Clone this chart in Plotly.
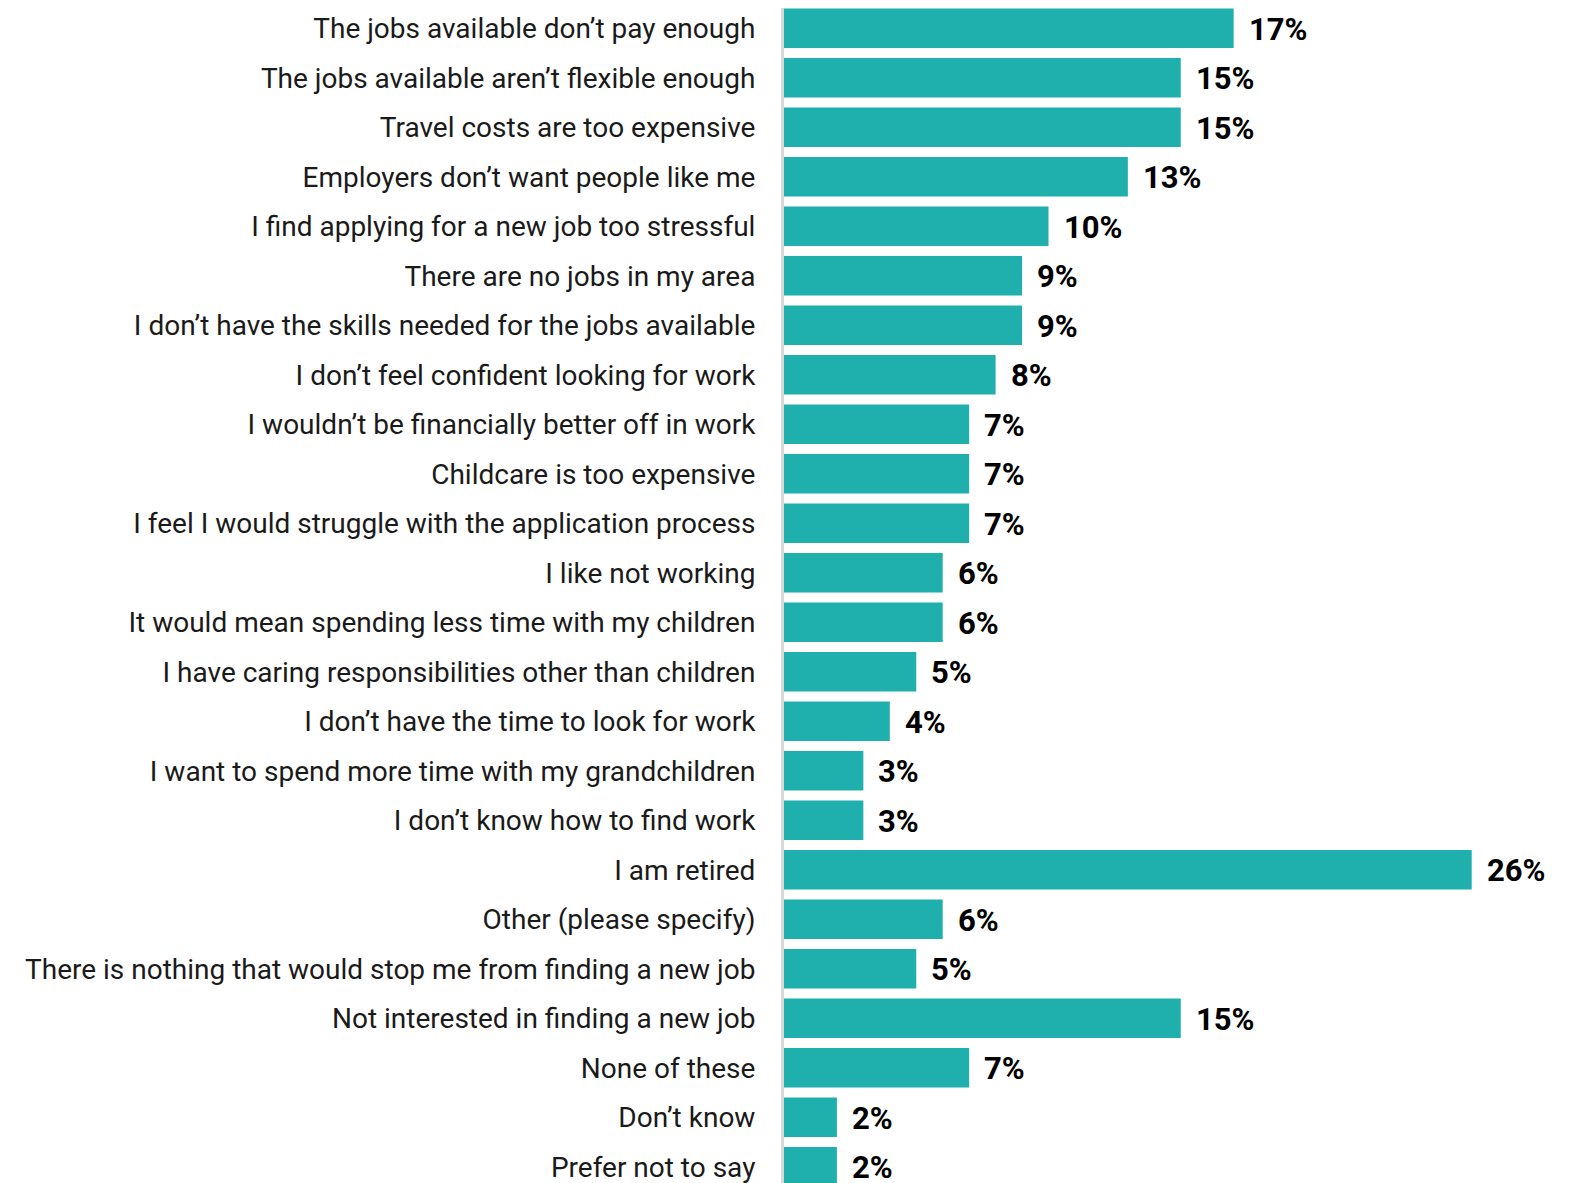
import plotly.graph_objects as go

categories = [
    "The jobs available don’t pay enough",
    "The jobs available aren’t flexible enough",
    "Travel costs are too expensive",
    "Employers don’t want people like me",
    "I find applying for a new job too stressful",
    "There are no jobs in my area",
    "I don’t have the skills needed for the jobs available",
    "I don’t feel confident looking for work",
    "I wouldn’t be financially better off in work",
    "Childcare is too expensive",
    "I feel I would struggle with the application process",
    "I like not working",
    "It would mean spending less time with my children",
    "I have caring responsibilities other than children",
    "I don’t have the time to look for work",
    "I want to spend more time with my grandchildren",
    "I don’t know how to find work",
    "I am retired",
    "Other (please specify)",
    "There is nothing that would stop me from finding a new job",
    "Not interested in finding a new job",
    "None of these",
    "Don’t know",
    "Prefer not to say",
]
values = [17, 15, 15, 13, 10, 9, 9, 8, 7, 7, 7, 6, 6, 5, 4, 3, 3, 26, 6, 5, 15, 7, 2, 2]
value_labels = [f"{v}%" for v in values]

BAR = "#1FAFAD"

fig = go.Figure(go.Bar(
    x=values, y=categories, orientation="h",
    marker=dict(color=BAR, line=dict(width=0)),
    width=0.8,
    hoverinfo="skip",
))

for c, v, t in zip(categories, values, value_labels):
    fig.add_annotation(x=v, y=c, text=f"<b>{t}</b>", showarrow=False,
                       xanchor="left", xshift=13, yshift=-1,
                       font=dict(family="Roboto", size=31, color="#000000"))

W, H, L = 1548, 1175, 776
PX_PER_PCT = 26.45
PITCH = 49.5
FIRST = 20.2

fig.update_layout(
    width=W, height=H,
    margin=dict(l=L, r=0, t=0, b=0),
    plot_bgcolor="white", paper_bgcolor="white",
    showlegend=False,
    font=dict(family="Roboto", size=28, color="#1a1a1a"),
)
fig.update_xaxes(range=[0, (W - L) / PX_PER_PCT], visible=False, showgrid=False, zeroline=False)
fig.update_yaxes(
    range=[(H - FIRST) / PITCH, -FIRST / PITCH], type="category",
    showline=True, linecolor="#d9d9d9", linewidth=3,
    showgrid=False, ticks="", ticklabelstandoff=20,
    tickfont=dict(family="Roboto", size=28, color="#1a1a1a"),
)

fig.write_html("out.html")
